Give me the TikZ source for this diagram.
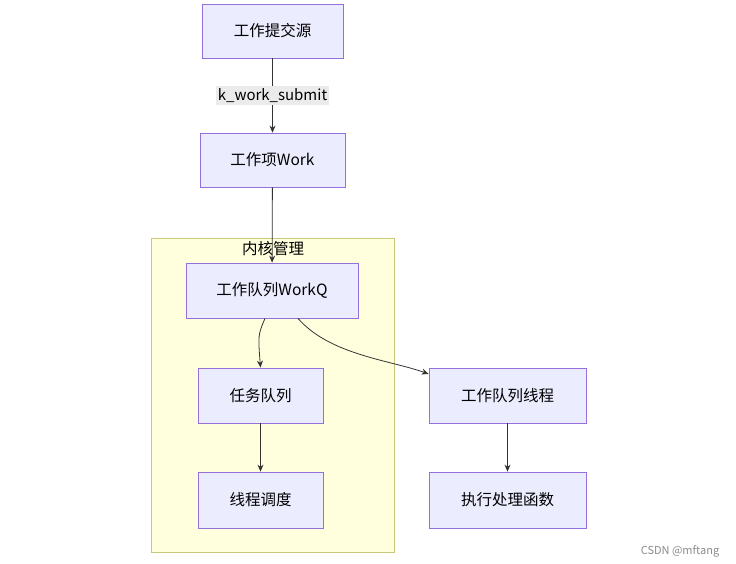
\documentclass[tikz,border=0pt]{standalone}
\usepackage{fontspec}
\setmainfont{Noto Sans CJK SC}
\usetikzlibrary{arrows.meta}
\definecolor{nf}{HTML}{ECECFF}\definecolor{ns}{HTML}{9370DB}
\definecolor{cf}{HTML}{FFFFDE}\definecolor{cs}{HTML}{C8C87A}
\begin{document}
\begin{tikzpicture}[x=1pt,y=-1pt,
 box/.style={draw=ns,fill=nf,line width=0.8pt,inner sep=0,font=\fontsize{15.5}{17}\selectfont},
 arr/.style={draw=black!80,line width=0.8pt,-{Stealth[length=7pt,width=6pt]}}]
\useasboundingbox (0,0) rectangle (736,564);
\fill[white] (0,0) rectangle (736,564);
\node[draw=cs,fill=cf,line width=0.8pt,minimum width=243pt,minimum height=314pt,inner sep=0] (cl) at (272.5,395) {};
\node[font=\fontsize{15.5}{17}\selectfont] (clt) at (273,249) {内核管理};
\node[box,minimum width=141pt,minimum height=54pt] (src) at (272.5,31) {工作提交源};
\node[box,minimum width=145pt,minimum height=54pt] (work) at (272.5,160) {工作项Work};
\node[box,minimum width=172pt,minimum height=55pt] (wq) at (272,290.5) {工作队列WorkQ};
\node[box,minimum width=125pt,minimum height=55pt] (tq) at (260.5,395.5) {任务队列};
\node[box,minimum width=125pt,minimum height=56pt] (sch) at (260.5,500) {线程调度};
\node[box,minimum width=157pt,minimum height=55pt] (th) at (507.5,395.5) {工作队列线程};
\node[box,minimum width=157pt,minimum height=56pt] (ex) at (507.5,500) {执行处理函数};
\draw[arr] (src) -- node[fill=black!8,inner sep=2pt,font=\fontsize{15}{17}\selectfont]{k\_work\_submit} (work);
\draw[arr] (work) -- (wq);
\draw[arr] (wq.south -| 265,0) .. controls (258,335) .. (tq.north);
\draw[arr] (wq.south -| 298,0) .. controls (330,355) and (390,360) .. (th.west |- 0,374);
\draw[arr] (tq) -- (sch);
\draw[arr] (th) -- (ex);
\node[text=black!45,font=\fontsize{11}{12}\selectfont] (wm) at (680,551) {CSDN @mftang};
\end{tikzpicture}
\end{document}
